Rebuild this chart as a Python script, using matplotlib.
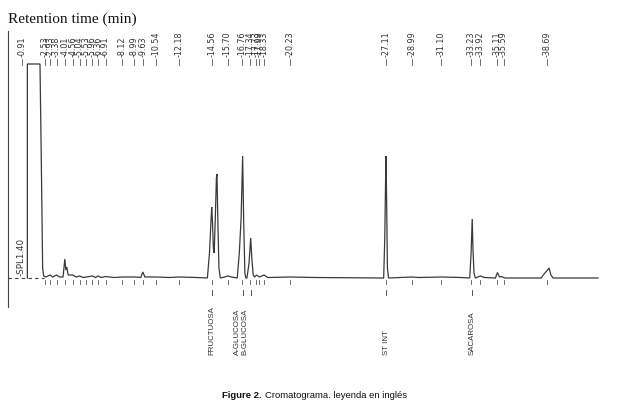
"""Chromatogram with retention-time labels (figure 2 recreation)."""

import matplotlib

matplotlib.use("Agg")

import matplotlib.pyplot as plt
from matplotlib import font_manager


def pick_font(names, default="DejaVu Sans"):
    for name in names:
        try:
            font_manager.findfont(font_manager.FontProperties(family=name), fallback_to_default=False)
            return name
        except ValueError:
            pass
    return default


# trace vertices: retention time (min), signal (arbitrary units)
trace_time = [
    1.28, 1.28, 2.19, 2.30, 2.38, 2.45, 2.60, 2.93, 3.10, 3.38, 3.60, 3.85, 3.98, 4.05,
    4.12, 4.22, 4.56, 4.80, 5.04, 5.30, 5.96, 6.20, 6.36, 6.60, 6.91, 7.50, 8.12, 8.99,
    9.45, 9.60, 9.75, 10.54, 11.50, 12.18, 13.50,
    14.25, 14.40, 14.52, 14.56, 14.62, 14.68, 14.74, 14.82, 14.90, 14.94, 15.00, 15.08,
    15.18, 15.50, 15.70, 16.00,
    16.40, 16.55, 16.68, 16.79, 16.86, 16.95, 17.02,
    17.10, 17.25, 17.37, 17.45, 17.55, 17.65, 17.79, 18.00, 18.33, 18.60, 20.23, 22.00,
    26.95, 27.03, 27.09, 27.12, 27.16, 27.22, 27.30, 28.99, 29.50, 31.10, 32.50,
    33.15, 33.25, 33.33, 33.38, 33.46, 33.55, 33.92, 34.20,
    35.00, 35.15, 35.30, 35.45, 35.59, 35.70,
    38.30, 38.50, 38.70, 38.86, 39.00, 39.15, 42.40,
]
trace_signal = [
    0, 214, 214, 100, 10, 2, 1, 3, 1, 3, 1, 1, 19, 8,
    11, 3, 3, 1, 2, 0.5, 2, 0.5, 2, 0.5, 1.5, 0.5, 1, 1,
    0.5, 6, 1, 1, 0.5, 1, 0.5,
    0, 25, 60, 71, 55, 30, 25, 60, 100, 104, 60, 10,
    0, 1, 2, 1,
    0, 25, 60, 122, 60, 5, 0,
    0, 15, 40, 20, 3, 1, 3, 1, 3, 0.5, 1, 0.5,
    0, 40, 100, 122, 80, 10, 0, 1, 0.5, 1, 0.5,
    0, 25, 59, 30, 5, 0, 2, 0.5,
    0, 5.5, 1, 1.5, 0.5, 0,
    0, 4, 7, 10, 3, 0, 0,
]

# retention times printed along the top
rt_labels = [
    "0.91", "2.53", "2.93", "3.38", "4.01", "4.56", "5.04", "5.53", "5.96", "6.36",
    "6.91", "8.12", "8.99", "9.63", "10.54", "12.18", "14.56", "15.70", "16.76",
    "17.34", "17.73", "17.99", "18.33", "20.23", "27.11", "28.99", "31.10", "33.23",
    "33.92", "35.11", "35.59", "38.69",
]
rt_values = [float(s) for s in rt_labels]

# identified compounds
compounds = ["FRUCTUOSA", "A-GLUCOSA", "B-GLUCOSA", "ST INT", "SACAROSA"]
compound_time = [14.56, 16.79, 17.37, 27.12, 33.33]
compound_text_time = [14.56, 16.45, 16.95, 27.12, 33.33]

narrow = pick_font(["Liberation Sans Narrow"], default=None)
if narrow is None:
    narrow = "Liberation Sans"
    shrink = 0.85
else:
    shrink = 1.0

fig = plt.figure(figsize=(6.39, 4.2), dpi=100)
ax = fig.add_axes([8 / 639, 1 - 307 / 420, (630 - 8) / 639, (307 - 31) / 420])
ax.set_xlim((8 - 9.6) / 13.88, (630 - 9.6) / 13.88)
ax.set_ylim(-29, 247)
for side in ("top", "right", "bottom"):
    ax.spines[side].set_visible(False)
ax.spines["left"].set_color("#444444")
ax.spines["left"].set_linewidth(0.8)
ax.set_xticks([])
ax.set_yticks([])

line_color = "#3a3a3a"
ax.plot(trace_time, trace_signal, color=line_color, lw=0.9, solid_joinstyle="miter")
ax.plot([-0.1, 2.5], [0, 0], color=line_color, lw=0.8, ls=(0, (3, 3)))

ax.text(0.8, 2, "-SPL1.40", rotation=90, fontsize=6.3, ha="center", va="bottom",
        color="#333333", family="DejaVu Sans")

for t, lab in zip(rt_values, rt_labels):
    ax.text(t, 221, "-" + lab, rotation=90, fontsize=5.8, ha="center", va="bottom",
            color="#333333", clip_on=False)
    ax.plot([t, t], [213, 219], color="#555555", lw=0.6, clip_on=False)
    if t > 1.5:
        ax.plot([t, t], [-2, -6], color="#555555", lw=0.6)

for t, tt, name in zip(compound_time, compound_text_time, compounds):
    ax.plot([t, t], [-12, -17], color="#555555", lw=0.7, clip_on=False)
    ax.text(tt, -77, name, rotation=90, fontsize=6.7 * shrink, ha="center", va="bottom",
            color="#333333", family=narrow, clip_on=False)

fig.text(8 / 639, 1 - 23 / 420, "Retention time (min)", fontsize=11, family="Liberation Serif",
         ha="left", va="baseline", color="#111111")

fig.text(262 / 639, 1 - 398 / 420, "Figure 2.", fontsize=8 * shrink, fontweight="bold",
         family=narrow, ha="right", va="baseline", color="#111111")
fig.text(265 / 639, 1 - 398 / 420, "Cromatograma. leyenda en inglés", fontsize=8 * shrink,
         family=narrow, ha="left", va="baseline", color="#111111")

fig.savefig("out.png", dpi=100)
plt.close(fig)
